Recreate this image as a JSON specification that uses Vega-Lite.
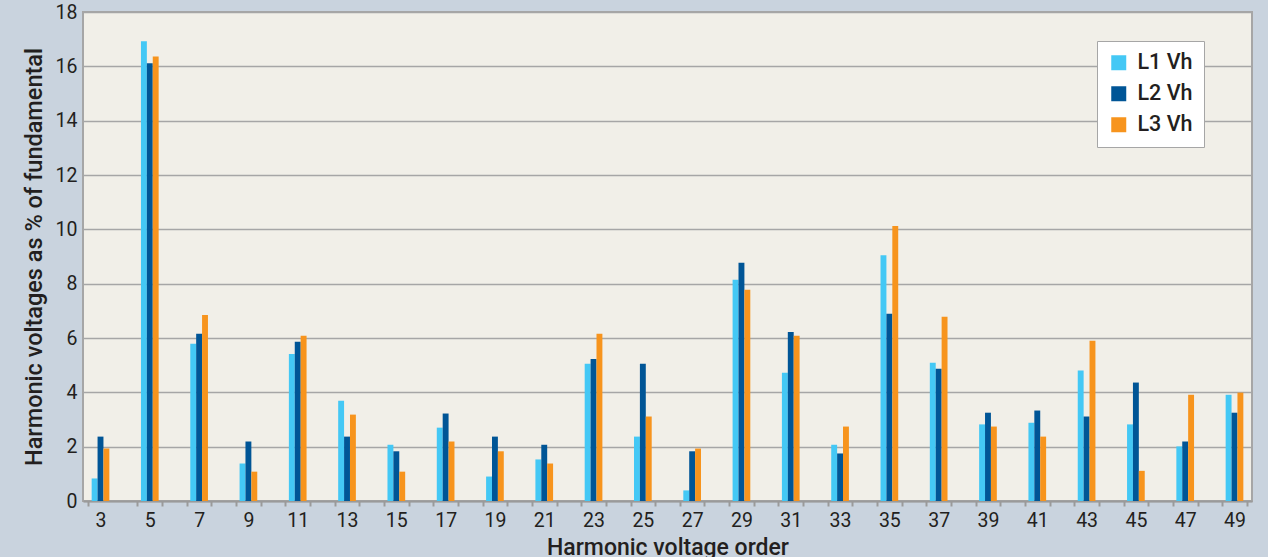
{
  "$schema": "https://vega.github.io/schema/vega-lite/v6.json",
  "width": 1169,
  "height": 489,
  "autosize": {"type": "none"},
  "padding": {"left": 83, "top": 12, "right": 16, "bottom": 56},
  "background": "#c9d3de",
  "config": {
    "font": "Roboto",
    "view": {"fill": "#f1efe8", "stroke": "#a6a6a6", "strokeWidth": 2}
  },
  "data": {
    "values": [
      {"h": 3, "s": "L1 Vh", "v": 0.83}, {"h": 3, "s": "L2 Vh", "v": 2.37}, {"h": 3, "s": "L3 Vh", "v": 1.93},
      {"h": 5, "s": "L1 Vh", "v": 16.92}, {"h": 5, "s": "L2 Vh", "v": 16.11}, {"h": 5, "s": "L3 Vh", "v": 16.36},
      {"h": 7, "s": "L1 Vh", "v": 5.79}, {"h": 7, "s": "L2 Vh", "v": 6.16}, {"h": 7, "s": "L3 Vh", "v": 6.85},
      {"h": 9, "s": "L1 Vh", "v": 1.38}, {"h": 9, "s": "L2 Vh", "v": 2.19}, {"h": 9, "s": "L3 Vh", "v": 1.08},
      {"h": 11, "s": "L1 Vh", "v": 5.41}, {"h": 11, "s": "L2 Vh", "v": 5.86}, {"h": 11, "s": "L3 Vh", "v": 6.08},
      {"h": 13, "s": "L1 Vh", "v": 3.69}, {"h": 13, "s": "L2 Vh", "v": 2.37}, {"h": 13, "s": "L3 Vh", "v": 3.18},
      {"h": 15, "s": "L1 Vh", "v": 2.07}, {"h": 15, "s": "L2 Vh", "v": 1.83}, {"h": 15, "s": "L3 Vh", "v": 1.08},
      {"h": 17, "s": "L1 Vh", "v": 2.70}, {"h": 17, "s": "L2 Vh", "v": 3.22}, {"h": 17, "s": "L3 Vh", "v": 2.19},
      {"h": 19, "s": "L1 Vh", "v": 0.90}, {"h": 19, "s": "L2 Vh", "v": 2.37}, {"h": 19, "s": "L3 Vh", "v": 1.83},
      {"h": 21, "s": "L1 Vh", "v": 1.53}, {"h": 21, "s": "L2 Vh", "v": 2.07}, {"h": 21, "s": "L3 Vh", "v": 1.38},
      {"h": 23, "s": "L1 Vh", "v": 5.05}, {"h": 23, "s": "L2 Vh", "v": 5.23}, {"h": 23, "s": "L3 Vh", "v": 6.16},
      {"h": 25, "s": "L1 Vh", "v": 2.37}, {"h": 25, "s": "L2 Vh", "v": 5.05}, {"h": 25, "s": "L3 Vh", "v": 3.11},
      {"h": 27, "s": "L1 Vh", "v": 0.39}, {"h": 27, "s": "L2 Vh", "v": 1.83}, {"h": 27, "s": "L3 Vh", "v": 1.93},
      {"h": 29, "s": "L1 Vh", "v": 8.14}, {"h": 29, "s": "L2 Vh", "v": 8.77}, {"h": 29, "s": "L3 Vh", "v": 7.78},
      {"h": 31, "s": "L1 Vh", "v": 4.72}, {"h": 31, "s": "L2 Vh", "v": 6.22}, {"h": 31, "s": "L3 Vh", "v": 6.08},
      {"h": 33, "s": "L1 Vh", "v": 2.07}, {"h": 33, "s": "L2 Vh", "v": 1.75}, {"h": 33, "s": "L3 Vh", "v": 2.74},
      {"h": 35, "s": "L1 Vh", "v": 9.05}, {"h": 35, "s": "L2 Vh", "v": 6.89}, {"h": 35, "s": "L3 Vh", "v": 10.12},
      {"h": 37, "s": "L1 Vh", "v": 5.09}, {"h": 37, "s": "L2 Vh", "v": 4.87}, {"h": 37, "s": "L3 Vh", "v": 6.78},
      {"h": 39, "s": "L1 Vh", "v": 2.82}, {"h": 39, "s": "L2 Vh", "v": 3.25}, {"h": 39, "s": "L3 Vh", "v": 2.74},
      {"h": 41, "s": "L1 Vh", "v": 2.88}, {"h": 41, "s": "L2 Vh", "v": 3.33}, {"h": 41, "s": "L3 Vh", "v": 2.37},
      {"h": 43, "s": "L1 Vh", "v": 4.80}, {"h": 43, "s": "L2 Vh", "v": 3.11}, {"h": 43, "s": "L3 Vh", "v": 5.90},
      {"h": 45, "s": "L1 Vh", "v": 2.82}, {"h": 45, "s": "L2 Vh", "v": 4.36}, {"h": 45, "s": "L3 Vh", "v": 1.11},
      {"h": 47, "s": "L1 Vh", "v": 2.01}, {"h": 47, "s": "L2 Vh", "v": 2.19}, {"h": 47, "s": "L3 Vh", "v": 3.91},
      {"h": 49, "s": "L1 Vh", "v": 3.91}, {"h": 49, "s": "L2 Vh", "v": 3.25}, {"h": 49, "s": "L3 Vh", "v": 3.99}
    ]
  },
  "mark": {"type": "bar"},
  "encoding": {
    "x": {
      "field": "h",
      "type": "ordinal",
      "scale": {
        "domain": [3,4,5,6,7,8,9,10,11,12,13,14,15,16,17,18,19,20,21,22,23,24,25,26,27,28,29,30,31,32,33,34,35,36,37,38,39,40,41,42,43,44,45,46,47,48,49],
        "paddingInner": 0,
        "paddingOuter": 0.21
      },
      "axis": {
        "title": "Harmonic voltage order",
        "titleFontSize": 23,
        "titleFontWeight": 500,
        "titleColor": "#231f20",
        "titlePadding": 7,
        "labelAngle": 0,
        "labelFontSize": 19.5,
        "labelColor": "#231f20",
        "labelPadding": 5,
        "labelExpr": "datum.value % 2 == 1 ? datum.label : ''",
        "tickBand": "extent",
        "tickSize": 5,
        "tickWidth": 2,
        "tickColor": {"condition": {"test": "datum.value == 3", "value": "transparent"}, "value": "#9a9a9a"},
        "domainColor": "#9a9a9a",
        "domainWidth": 2,
        "grid": false
      }
    },
    "xOffset": {
      "field": "s",
      "type": "nominal",
      "scale": {"paddingInner": 0, "paddingOuter": 0.59}
    },
    "y": {
      "field": "v",
      "type": "quantitative",
      "scale": {"domain": [0, 18], "nice": false},
      "axis": {
        "title": "Harmonic voltages as % of fundamental",
        "titleFontSize": 23.5,
        "titleFontWeight": 500,
        "titleColor": "#231f20",
        "titlePadding": 9,
        "values": [0,2,4,6,8,10,12,14,16,18],
        "labelFontSize": 19.5,
        "labelColor": "#231f20",
        "labelPadding": 6,
        "ticks": false,
        "domain": false,
        "grid": true,
        "gridColor": "#a6a6a6",
        "gridWidth": 1.5
      }
    },
    "color": {
      "field": "s",
      "type": "nominal",
      "scale": {"domain": ["L1 Vh", "L2 Vh", "L3 Vh"], "range": ["#44c8f5", "#005596", "#f7941d"]},
      "legend": {
        "title": null,
        "orient": "none",
        "legendX": 1014,
        "legendY": 29,
        "fillColor": "#ffffff",
        "strokeColor": "#a6a6a6",
        "padding": 11,
        "symbolType": "square",
        "symbolSize": 225,
        "symbolStrokeWidth": 0,
        "symbolOpacity": 1,
        "labelFontSize": 21.5,
        "labelFontWeight": 500,
        "labelColor": "#231f20",
        "labelOffset": 8,
        "rowPadding": 8
      }
    }
  }
}
